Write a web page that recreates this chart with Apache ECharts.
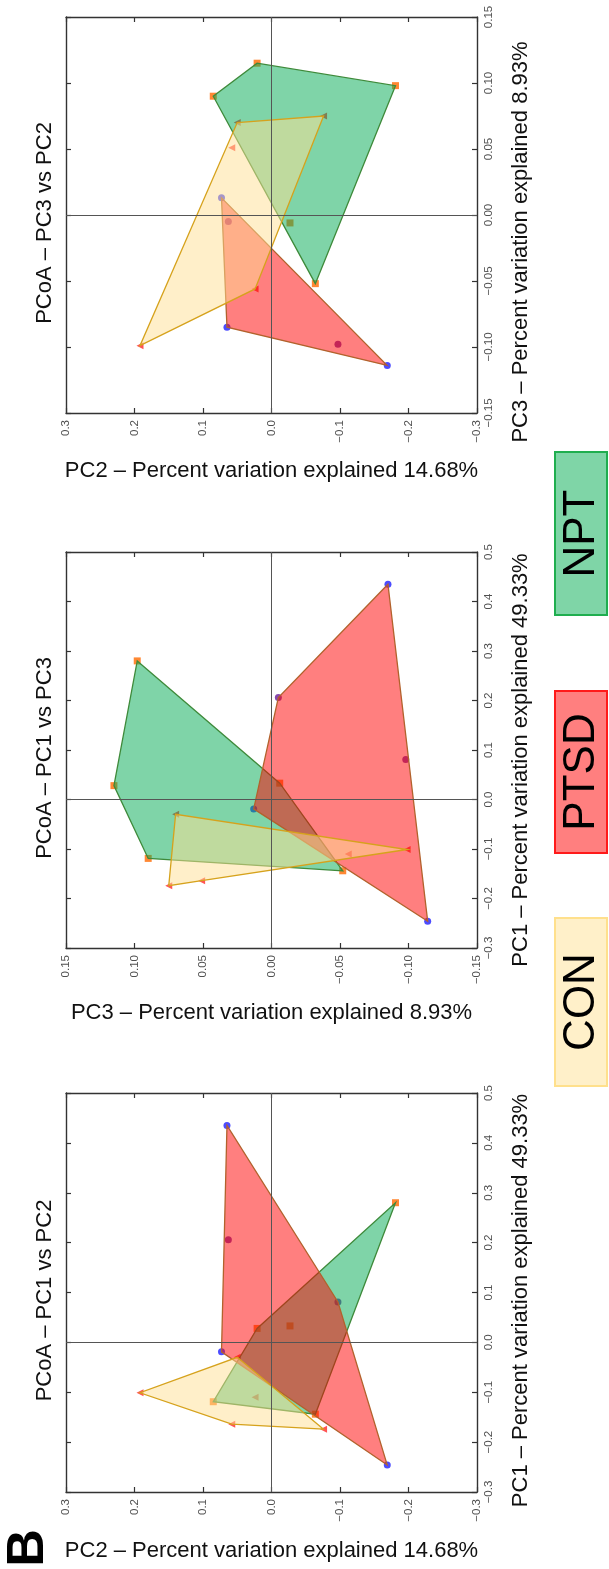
<!DOCTYPE html>
<html>
<head>
<meta charset="utf-8">
<script src="https://cdn.jsdelivr.net/npm/echarts@6/dist/echarts.min.js"></script>
<style>
  html, body { margin: 0; padding: 0; background: #ffffff; }
  #chart { width: 609px; height: 1569px; }
</style>
</head>
<body>
<div id="chart"></div>
<script>
// Sample scores on the first three principal coordinates, per group
const conPC1  = [-0.101, -0.030, -0.174, -0.164, -0.110];
const conPC2  = [ 0.192,  0.050, -0.076,  0.058,  0.024];
const conPC3  = [-0.099,  0.070,  0.075,  0.051, -0.056];

const ptsdPC1 = [ 0.435,  0.206,  0.081, -0.019, -0.246];
const ptsdPC2 = [ 0.065,  0.063, -0.097,  0.073, -0.169];
const ptsdPC3 = [-0.085, -0.005, -0.098,  0.013, -0.114];

const nptPC1  = [ 0.280,  0.028,  0.033, -0.144, -0.119];
const nptPC2  = [-0.181,  0.021, -0.027, -0.064,  0.085];
const nptPC3  = [ 0.098,  0.115, -0.006, -0.052,  0.090];

// Per-sample marker colours
const conDotColors  = ['#ff2a2a', '#ff2a2a', '#ff2a2a', '#ff2a2a', '#ff2a2a'];
const ptsdDotColors = ['#1f1fff', '#6a1b9a', '#6a1b9a', '#1f1fff', '#1f1fff'];
const nptDotColors  = ['#ff6a00', '#ff6a00', '#ff6a00', '#ff6a00', '#ff6a00'];

const groupNames = ['NPT', 'PTSD', 'CON'];

// Axis ranges and titles for each principal coordinate
const axisTitles = {
  PC1: 'PC1 – Percent variation explained 49.33%',
  PC2: 'PC2 – Percent variation explained 14.68%',
  PC3: 'PC3 – Percent variation explained 8.93%'
};
const axisRange = { PC1: [-0.3, 0.5], PC2: [-0.3, 0.3], PC3: [-0.15, 0.15] };
const axisStep  = { PC1: 0.1, PC2: 0.1, PC3: 0.05 };
const axisDecimals = { PC1: 1, PC2: 1, PC3: 2 };

const FONT = "'Liberation Sans', Arial, Helvetica, sans-serif";

const groups = [
  { name: 'NPT',  pcs: [nptPC1, nptPC2, nptPC3],    colors: nptDotColors,  symbol: 'rect',     rot: 0,  size: 7,
    fill: 'rgba(0,170,82,0.5)',    stroke: '#3e8a3a' },
  { name: 'PTSD', pcs: [ptsdPC1, ptsdPC2, ptsdPC3], colors: ptsdDotColors, symbol: 'circle',   rot: 0,  size: 7,
    fill: 'rgba(255,0,0,0.5)',     stroke: '#b2622c' },
  { name: 'CON',  pcs: [conPC1, conPC2, conPC3],    colors: conDotColors,  symbol: 'triangle', rot: 90, size: 7,
    fill: 'rgba(255,224,148,0.5)', stroke: '#d6a21c' }
];

// Panel layout: horizontal axis (reversed), vertical axis (on the right)
const panels = [
  { title: 'PCoA – PC3 vs PC2', h: 'PC2', v: 'PC3', top: 17,   height: 396, nameGap: 47, vNameShift: 27 },
  { title: 'PCoA – PC1 vs PC3', h: 'PC3', v: 'PC1', top: 552,  height: 396, nameGap: 54, vNameShift: 10 },
  { title: 'PCoA – PC1 vs PC2', h: 'PC2', v: 'PC1', top: 1093, height: 399, nameGap: 48, vNameShift: 8 }
];
const GRID_LEFT = 66, GRID_WIDTH = 411;

const pcIndex = { PC1: 0, PC2: 1, PC3: 2 };

function fmt(dec) {
  return function (v) {
    const s = Math.abs(v).toFixed(dec);
    return (v < -1e-9 ? '\u2212' : '') + s;
  };
}

// Convex hull (monotone chain)
function hull(points) {
  const p = points.slice().sort((a, b) => a[0] - b[0] || a[1] - b[1]);
  const cross = (o, a, b) => (a[0] - o[0]) * (b[1] - o[1]) - (a[1] - o[1]) * (b[0] - o[0]);
  const lower = [], upper = [];
  for (const q of p) {
    while (lower.length >= 2 && cross(lower[lower.length - 2], lower[lower.length - 1], q) <= 0) lower.pop();
    lower.push(q);
  }
  for (let i = p.length - 1; i >= 0; i--) {
    const q = p[i];
    while (upper.length >= 2 && cross(upper[upper.length - 2], upper[upper.length - 1], q) <= 0) upper.pop();
    upper.push(q);
  }
  upper.pop(); lower.pop();
  return lower.concat(upper);
}

const grid = [], xAxis = [], yAxis = [], series = [], graphic = [];

const axisLineStyle = { color: '#333333', width: 1.4 };
const tickStyle = { show: true, inside: true, length: 5, lineStyle: { color: '#333333', width: 1.2 } };

panels.forEach((pn, i) => {
  grid.push({ left: GRID_LEFT, top: pn.top, width: GRID_WIDTH, height: pn.height,
              containLabel: false, outerBoundsMode: 'none' });

  const hx = pn.h, vy = pn.v;
  // bottom axis with labels
  xAxis.push({
    type: 'value', gridIndex: i, position: 'bottom', inverse: true,
    min: axisRange[hx][0], max: axisRange[hx][1], interval: axisStep[hx],
    axisLine: { show: true, onZero: false, lineStyle: axisLineStyle },
    axisTick: tickStyle, splitLine: { show: false },
    axisLabel: { show: true, rotate: 90, margin: 7, fontSize: 11.5, color: '#505050',
                 fontFamily: FONT, formatter: fmt(axisDecimals[hx]) },
    name: axisTitles[hx], nameLocation: 'middle', nameGap: pn.nameGap, nameMoveOverlap: false,
    nameTextStyle: { fontSize: 22, color: '#111111', fontFamily: FONT }
  });
  // top mirror axis
  xAxis.push({
    type: 'value', gridIndex: i, position: 'top', inverse: true,
    min: axisRange[hx][0], max: axisRange[hx][1], interval: axisStep[hx],
    axisLine: { show: true, onZero: false, lineStyle: axisLineStyle },
    axisTick: tickStyle, splitLine: { show: false }, axisLabel: { show: false }
  });
  // right axis with labels
  yAxis.push({
    type: 'value', gridIndex: i, position: 'right',
    min: axisRange[vy][0], max: axisRange[vy][1], interval: axisStep[vy],
    axisLine: { show: true, onZero: false, lineStyle: axisLineStyle },
    axisTick: tickStyle, splitLine: { show: false },
    axisLabel: { show: true, rotate: 90, margin: 6, fontSize: 11.5, color: '#505050',
                 fontFamily: FONT, formatter: fmt(axisDecimals[vy]) }
  });
  // left mirror axis
  yAxis.push({
    type: 'value', gridIndex: i, position: 'left',
    min: axisRange[vy][0], max: axisRange[vy][1], interval: axisStep[vy],
    axisLine: { show: true, onZero: false, lineStyle: axisLineStyle },
    axisTick: tickStyle, splitLine: { show: false }, axisLabel: { show: false }
  });

  const xa = 2 * i, ya = 2 * i;
  const hi = pcIndex[hx], vi = pcIndex[vy];

  // sample markers, with the zero reference lines
  groups.forEach((g, gi) => {
    const pts = g.pcs[hi].map((v, k) => ({
      value: [v, g.pcs[vi][k]],
      itemStyle: { color: g.colors[k] }
    }));
    const s = {
      type: 'scatter', name: g.name, xAxisIndex: xa, yAxisIndex: ya, z: 2,
      symbol: g.symbol, symbolRotate: g.rot, symbolSize: g.size, data: pts, silent: true
    };
    if (gi === 0) {
      s.markLine = {
        silent: true, symbol: 'none', animation: false, label: { show: false },
        lineStyle: { color: '#555555', width: 1, type: 'solid' },
        data: [{ xAxis: 0 }, { yAxis: 0 }]
      };
    }
    series.push(s);
  });

  // group hulls drawn over the markers
  groups.forEach((g) => {
    const pts = g.pcs[hi].map((v, k) => [v, g.pcs[vi][k]]);
    const h = hull(pts);
    series.push({
      type: 'custom', name: g.name + ' hull', xAxisIndex: xa, yAxisIndex: ya, z: 3,
      silent: true, clip: false, data: [[0, 0]],
      renderItem: (params, api) => ({
        type: 'polygon',
        shape: { points: h.map(p => api.coord(p)) },
        style: { fill: g.fill, stroke: g.stroke, lineWidth: 1.3 }
      })
    });
  });

  // rotated panel title
  graphic.push({
    type: 'text', x: 45, y: pn.top + pn.height / 2 + 8, rotation: Math.PI / 2,
    style: { text: pn.title, font: '22px ' + FONT, fill: '#111111', align: 'center', verticalAlign: 'middle' }
  });
  // rotated name of the vertical axis, right of the tick labels
  graphic.push({
    type: 'text', x: 521, y: pn.top + pn.height / 2 + pn.vNameShift, rotation: Math.PI / 2,
    style: { text: axisTitles[vy], font: '22px ' + FONT, fill: '#111111', align: 'center', verticalAlign: 'middle' }
  });
});

// panel letter
graphic.push({
  type: 'text', x: 29, y: 1548, rotation: Math.PI / 2,
  style: { text: 'B', font: 'bold 52px ' + FONT, fill: '#000000', align: 'center', verticalAlign: 'middle' }
});

// group key
const keyBoxes = [
  { top: 452, height: 163, fill: '#7fd5a7', stroke: '#1fae4f' },
  { top: 691, height: 162, fill: '#ff7f7f', stroke: '#ff1a1a' },
  { top: 918, height: 168, fill: '#fff0c9', stroke: '#ffe08c' }
];
keyBoxes.forEach((b, k) => {
  graphic.push({
    type: 'rect', shape: { x: 555, y: b.top, width: 52, height: b.height },
    style: { fill: b.fill, stroke: b.stroke, lineWidth: 2 }
  });
  graphic.push({
    type: 'text', x: 582, y: b.top + b.height / 2, rotation: Math.PI / 2,
    style: { text: groupNames[k], font: '44px ' + FONT, fill: '#000000', align: 'center', verticalAlign: 'middle' }
  });
});

const chart = echarts.init(document.getElementById('chart'), null, { renderer: 'canvas' });
chart.setOption({
  animation: false,
  backgroundColor: '#ffffff',
  textStyle: { fontFamily: FONT },
  grid, xAxis, yAxis, series, graphic
});
</script>
</body>
</html>
